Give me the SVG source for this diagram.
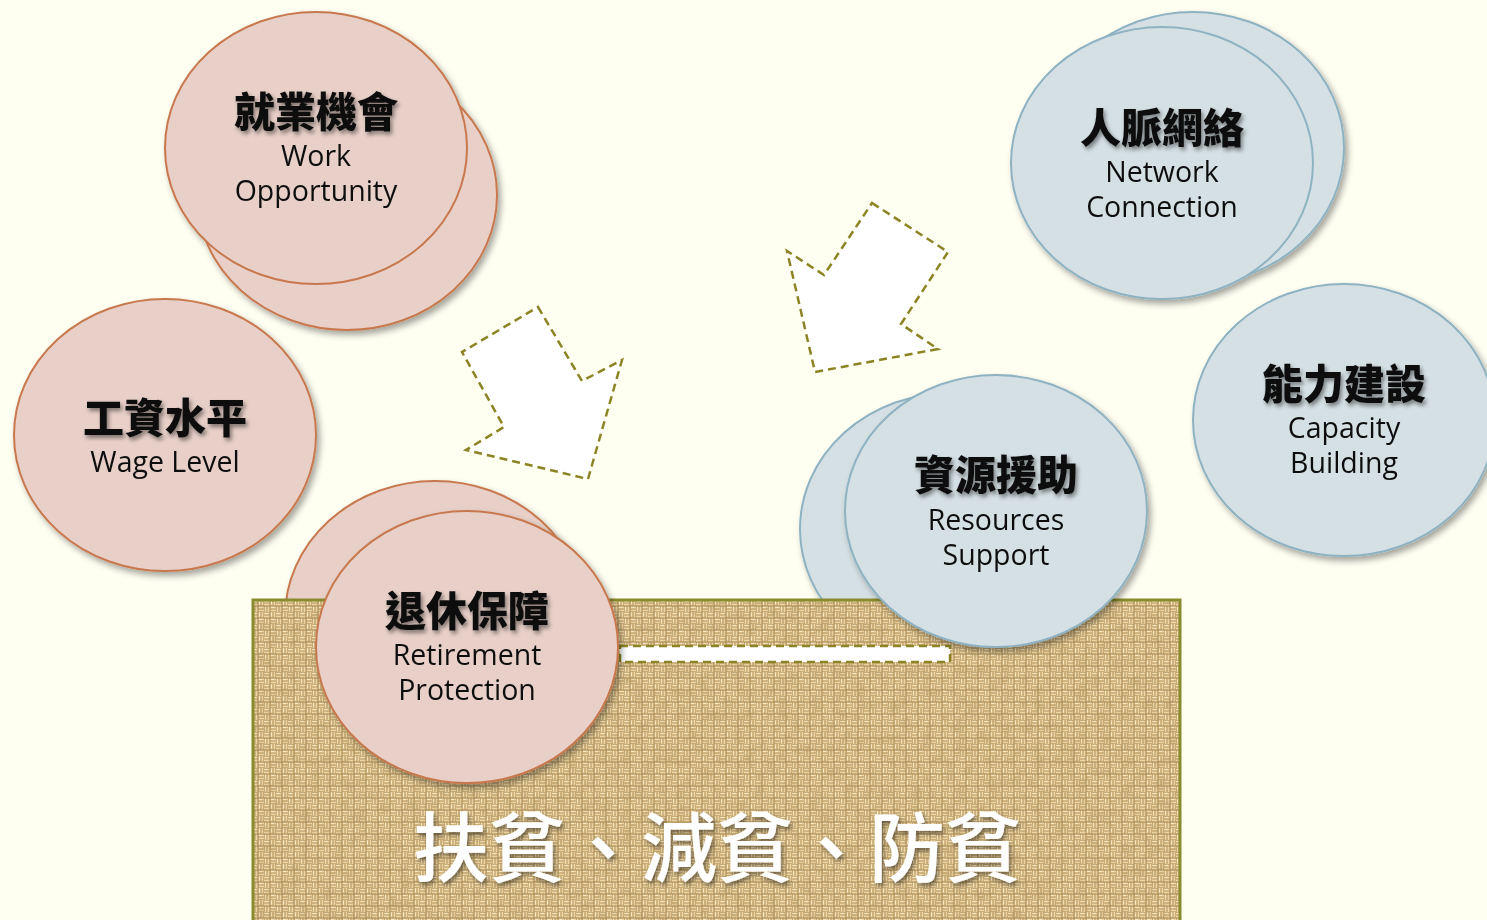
<svg xmlns="http://www.w3.org/2000/svg" width="1487" height="920" viewBox="0 0 1487 920">
<defs>
<style>
.pink{fill:#E8D0C8;stroke:#C8784E;stroke-width:2}
.blue{fill:#D5E0E4;stroke:#8EB2C2;stroke-width:2}
.zh{font-family:"Noto Sans CJK TC","Noto Sans CJK SC",sans-serif;font-weight:900;font-size:41px;fill:#111;text-anchor:middle}
.en{font-family:"Open Sans","Noto Sans",sans-serif;font-size:28.5px;fill:#111;text-anchor:middle}
.arrow{fill:#FFFFFF;stroke:#8C8424;stroke-width:2.5;stroke-dasharray:8 5}
.big{font-family:"Noto Sans CJK TC","Noto Sans CJK SC",sans-serif;font-weight:500;font-size:76px;fill:#FFFFFF;text-anchor:middle}
</style>
<filter id="sh" x="-10%" y="-10%" width="130%" height="130%">
<feDropShadow dx="3" dy="4" stdDeviation="3" flood-color="#000" flood-opacity="0.35"/>
</filter>
<filter id="tsh" x="-10%" y="-20%" width="130%" height="150%">
<feDropShadow dx="2" dy="3" stdDeviation="2" flood-color="#000" flood-opacity="0.45"/>
</filter>
<filter id="noise" x="0" y="0" width="100%" height="100%">
<feTurbulence type="fractalNoise" baseFrequency="0.09" numOctaves="2" seed="7" result="n"/>
<feColorMatrix in="n" type="matrix" values="0 0 0 0 0.42  0 0 0 0 0.28  0 0 0 0 0.1  0 0 0 1.6 -0.65"/>
</filter>
<pattern id="burlap" width="12" height="12" patternUnits="userSpaceOnUse">
<rect width="12" height="12" fill="#A6854F"/>
<g fill="#EDD7A5">
<rect x="0" y="0.5" width="5.5" height="2.1"/>
<rect x="0" y="3.4" width="5.5" height="2.1"/>
<rect x="6.5" y="0" width="2.1" height="5.5"/>
<rect x="9.4" y="0" width="2.1" height="5.5"/>
<rect x="0.5" y="6.5" width="2.1" height="5.5"/>
<rect x="3.4" y="6.5" width="2.1" height="5.5"/>
<rect x="6.5" y="6.5" width="5.5" height="2.1"/>
<rect x="6.5" y="9.4" width="5.5" height="2.1"/>
</g>
<g fill="#F8EBC8">
<rect x="1" y="1" width="3" height="1"/>
<rect x="7" y="7" width="3" height="1"/>
<rect x="7" y="1" width="1" height="3"/>
<rect x="1" y="7" width="1" height="3"/>
</g>
</pattern>
</defs>
<rect width="1487" height="920" fill="#FEFEF1"/>

<g id="work" filter="url(#sh)">
<ellipse class="pink" cx="347" cy="195" rx="150" ry="135"/>
<ellipse class="pink" cx="316" cy="148" rx="151" ry="136"/>
<text class="zh" x="316" y="127" filter="url(#tsh)">就業機會</text>
<text class="en" x="316" y="166">Work</text>
<text class="en" x="316" y="201">Opportunity</text>
</g>

<g id="wage" filter="url(#sh)">
<ellipse class="pink" cx="165" cy="435" rx="151" ry="136"/>
<text class="zh" x="165" y="433" filter="url(#tsh)">工資水平</text>
<text class="en" x="165" y="472">Wage Level</text>
</g>

<g id="retire-back" filter="url(#sh)">
<ellipse class="pink" cx="435" cy="617" rx="150" ry="136"/>
</g>
<g id="resources-back" filter="url(#sh)">
<ellipse class="blue" cx="951" cy="529" rx="151" ry="136"/>
</g>

<g id="base">
<rect x="253" y="600" width="927" height="322" fill="url(#burlap)"/>
<rect x="253" y="600" width="927" height="322" filter="url(#noise)" opacity="0.45"/>
<rect x="253" y="600" width="927" height="322" fill="none" stroke="#8A8A2E" stroke-width="3"/>
</g>

<g id="connectors">
<polygon class="arrow" points="538,307 582,381 622,360 588,479 466,450 504,427 462,352"/>
<polygon class="arrow" points="872,203 948,252 901,324 938,349 815,372 787,251 824,275"/>
<rect class="arrow" x="620" y="646" width="330" height="16" stroke-width="2.5" stroke="#6E6A18"/>
</g>

<g id="retire" filter="url(#sh)">
<ellipse class="pink" cx="467" cy="647" rx="151" ry="136"/>
<text class="zh" x="467" y="626" filter="url(#tsh)">退休保障</text>
<text class="en" x="467" y="665">Retirement</text>
<text class="en" x="467" y="700">Protection</text>
</g>

<g id="network" filter="url(#sh)">
<ellipse class="blue" cx="1193" cy="148" rx="151" ry="136"/>
<ellipse class="blue" cx="1162" cy="163" rx="151" ry="136"/>
<text class="zh" x="1162" y="143" filter="url(#tsh)">人脈網絡</text>
<text class="en" x="1162" y="182">Network</text>
<text class="en" x="1162" y="217">Connection</text>
</g>

<g id="capacity" filter="url(#sh)">
<ellipse class="blue" cx="1344" cy="420" rx="151" ry="136"/>
<text class="zh" x="1344" y="399" filter="url(#tsh)">能力建設</text>
<text class="en" x="1344" y="438">Capacity</text>
<text class="en" x="1344" y="473">Building</text>
</g>

<g id="resources" filter="url(#sh)">
<ellipse class="blue" cx="996" cy="511" rx="151" ry="136"/>
<text class="zh" x="996" y="490" filter="url(#tsh)">資源援助</text>
<text class="en" x="996" y="530">Resources</text>
<text class="en" x="996" y="565">Support</text>
</g>

<g id="title">
<text class="big" x="717" y="876" filter="url(#tsh)">扶貧、減貧、防貧</text>
</g>
</svg>
